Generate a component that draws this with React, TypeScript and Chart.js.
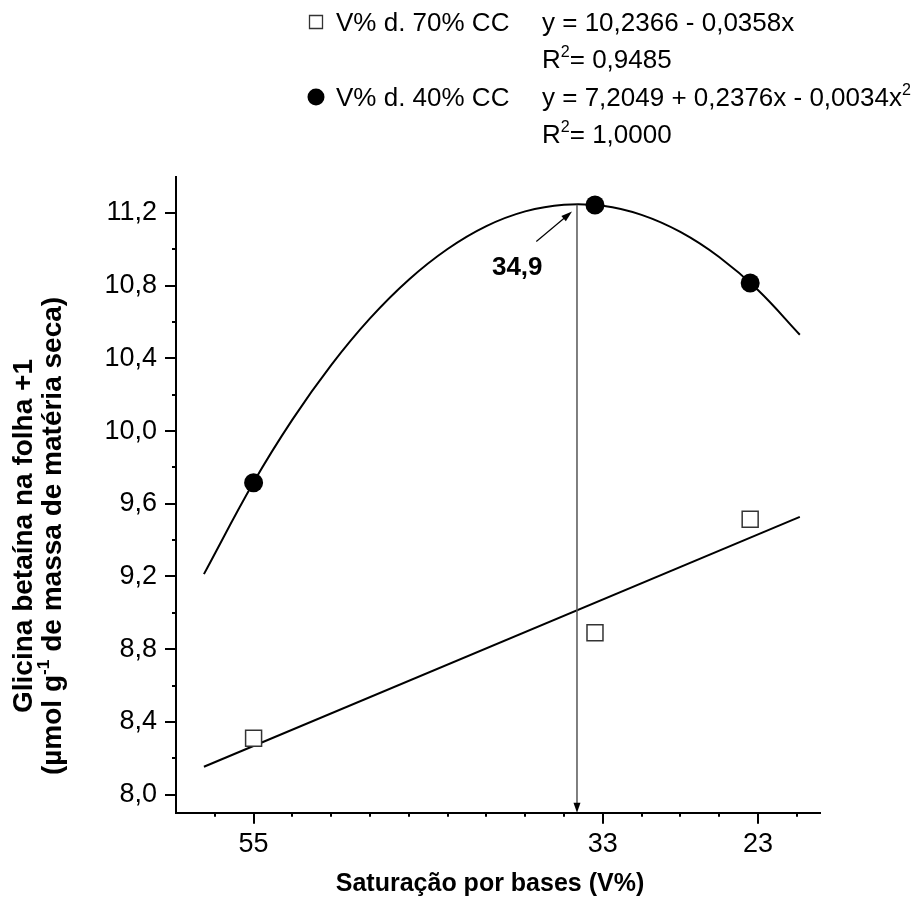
import React, { useEffect, useRef } from 'react';
import { Chart, registerables } from 'chart.js';

Chart.register(...registerables);

const FONT = '"Liberation Sans", Arial, Helvetica, sans-serif';

// Observed means at each base saturation level (V%)
const basesV = [55, 33, 23];
const glicina70 = [8.31, 8.89, 9.515];
const glicina40 = [9.716, 11.244, 10.815];

// Fitted straight line (70% CC), read at its two ends
const fit70X = [58.2, 19.8];
const fit70Y = [8.153, 9.528];

// Fitted curve (40% CC)
const fit40X = [58.2, 55, 52.5, 50, 47.5, 45, 42.5, 40, 37.5, 35, 32.5, 30, 27.5, 25, 22.5, 19.8];
const fit40Y = [9.213, 9.718, 10.063, 10.363, 10.62, 10.833, 11.002, 11.128, 11.209, 11.246, 11.24, 11.19, 11.096, 10.958, 10.776, 10.53];

// Axis ticks
const xMajorTicks = [55, 32.5, 22.5];
const xMajorLabels = ['55', '33', '23'];
const xMinorTicks = [57.5, 52.5, 50, 47.5, 45, 42.5, 40, 37.5, 35, 30, 27.5, 25, 20];
const yMajorTicks = [8.0, 8.4, 8.8, 9.2, 9.6, 10.0, 10.4, 10.8, 11.2];
const yMajorLabels = ['8,0', '8,4', '8,8', '9,2', '9,6', '10,0', '10,4', '10,8', '11,2'];
const yMinorTicks = [8.2, 8.6, 9.0, 9.4, 9.8, 10.2, 10.6, 11.0];

// Annotation (maximum point)
const peakMarkX = 34.16;
const peakMarkTopY = 11.245;
const peakLabel = '34,9';
const peakLabelX = 39.64;
const peakLabelY = 10.86;
const peakArrowFromX = 36.78;
const peakArrowFromY = 11.043;
const peakArrowToX = 34.48;
const peakArrowToY = 11.208;

// Texts
const xTitle = 'Saturação por bases (V%)';
const yTitle1 = 'Glicina betaína na folha +1';
const seriesName70 = 'V% d. 70% CC';
const seriesName40 = 'V% d. 40% CC';
const eq70 = 'y = 10,2366 - 0,0358x';
const r2_70 = '= 0,9485';
const eq40 = 'y = 7,2049 + 0,2376x - 0,0034x';
const r2_40 = '= 1,0000';

type Run = { t: string; sup?: boolean };

function runsWidth(ctx: CanvasRenderingContext2D, runs: Run[], size: number, weight: string) {
  let w = 0;
  for (const r of runs) {
    const s = r.sup ? size * 0.62 : size;
    ctx.font = `${weight} ${s}px ${FONT}`;
    w += ctx.measureText(r.t).width;
  }
  return w;
}

function drawRuns(ctx: CanvasRenderingContext2D, runs: Run[], x: number, y: number, size: number, weight: string) {
  let cx = x;
  ctx.textAlign = 'left';
  ctx.textBaseline = 'alphabetic';
  for (const r of runs) {
    const s = r.sup ? size * 0.62 : size;
    ctx.font = `${weight} ${s}px ${FONT}`;
    ctx.fillText(r.t, cx, r.sup ? y - size * 0.42 : y);
    cx += ctx.measureText(r.t).width;
  }
}

function arrowHead(ctx: CanvasRenderingContext2D, x1: number, y1: number, x2: number, y2: number, len: number, half: number) {
  const a = Math.atan2(y2 - y1, x2 - x1);
  ctx.beginPath();
  ctx.moveTo(x2, y2);
  ctx.lineTo(x2 - len * Math.cos(a) + half * Math.sin(a), y2 - len * Math.sin(a) - half * Math.cos(a));
  ctx.lineTo(x2 - len * Math.cos(a) - half * Math.sin(a), y2 - len * Math.sin(a) + half * Math.cos(a));
  ctx.closePath();
  ctx.fill();
}

const customPlugin = {
  id: 'customDecor',
  afterDraw(chart: any) {
    const ctx: CanvasRenderingContext2D = chart.ctx;
    const xs = chart.scales.x;
    const ys = chart.scales.y;
    const area = chart.chartArea;
    ctx.save();
    ctx.strokeStyle = '#000';
    ctx.fillStyle = '#000';
    ctx.lineWidth = 2;

    // tick marks
    ctx.beginPath();
    for (const v of yMajorTicks) {
      const p = Math.round(ys.getPixelForValue(v));
      ctx.moveTo(area.left - 11, p);
      ctx.lineTo(area.left, p);
    }
    for (const v of yMinorTicks) {
      const p = Math.round(ys.getPixelForValue(v));
      ctx.moveTo(area.left - 4, p);
      ctx.lineTo(area.left, p);
    }
    for (const v of xMajorTicks) {
      const p = Math.round(xs.getPixelForValue(v));
      ctx.moveTo(p, area.bottom);
      ctx.lineTo(p, area.bottom + 11);
    }
    for (const v of xMinorTicks) {
      const p = Math.round(xs.getPixelForValue(v));
      ctx.moveTo(p, area.bottom);
      ctx.lineTo(p, area.bottom + 4);
    }
    ctx.stroke();

    // vertical marker line with arrow to the axis
    const vx = xs.getPixelForValue(peakMarkX);
    const vTop = ys.getPixelForValue(peakMarkTopY);
    ctx.strokeStyle = '#555';
    ctx.lineWidth = 1.5;
    ctx.beginPath();
    ctx.moveTo(vx, vTop);
    ctx.lineTo(vx, area.bottom - 8);
    ctx.stroke();
    ctx.fillStyle = '#000';
    arrowHead(ctx, vx, vTop, vx, area.bottom, 10, 3.5);

    // diagonal arrow
    const ax1 = xs.getPixelForValue(peakArrowFromX);
    const ay1 = ys.getPixelForValue(peakArrowFromY);
    const ax2 = xs.getPixelForValue(peakArrowToX);
    const ay2 = ys.getPixelForValue(peakArrowToY);
    ctx.strokeStyle = '#000';
    ctx.lineWidth = 1.2;
    ctx.beginPath();
    ctx.moveTo(ax1, ay1);
    const ang = Math.atan2(ay2 - ay1, ax2 - ax1);
    ctx.lineTo(ax2 - 8 * Math.cos(ang), ay2 - 8 * Math.sin(ang));
    ctx.stroke();
    arrowHead(ctx, ax1, ay1, ax2, ay2, 11, 3.5);

    // peak label
    ctx.font = `bold 26px ${FONT}`;
    ctx.textAlign = 'left';
    ctx.textBaseline = 'alphabetic';
    ctx.fillText(peakLabel, xs.getPixelForValue(peakLabelX), ys.getPixelForValue(peakLabelY));

    // x title
    ctx.font = `bold 25px ${FONT}`;
    ctx.textAlign = 'center';
    ctx.fillText(xTitle, 490, 891);

    // y title (rotated, two lines)
    const yRuns1: Run[] = [{ t: yTitle1 }];
    const yRuns2: Run[] = [{ t: '(µmol g' }, { t: '-1', sup: true }, { t: ' de massa de matéria seca)' }];
    const cy = 536;
    const ySize = 28;
    ctx.save();
    ctx.translate(32, cy);
    ctx.rotate(-Math.PI / 2);
    drawRuns(ctx, yRuns1, -runsWidth(ctx, yRuns1, ySize, 'bold') / 2, 0, ySize, 'bold');
    ctx.restore();
    ctx.save();
    ctx.translate(61, cy);
    ctx.rotate(-Math.PI / 2);
    drawRuns(ctx, yRuns2, -runsWidth(ctx, yRuns2, ySize, 'bold') / 2, 0, ySize, 'bold');
    ctx.restore();

    // legend
    const symX = 316;
    const nameX = 336;
    const eqX = 542;
    const size = 26;
    const rows = [31, 68, 106, 143];
    // square
    ctx.strokeStyle = '#333';
    ctx.lineWidth = 1.3;
    ctx.fillStyle = '#fff';
    ctx.beginPath();
    ctx.rect(symX - 6.5, rows[0] - 9 - 6.5, 13, 13);
    ctx.fill();
    ctx.stroke();
    ctx.fillStyle = '#000';
    drawRuns(ctx, [{ t: seriesName70 }], nameX, rows[0], size, 'normal');
    drawRuns(ctx, [{ t: eq70 }], eqX, rows[0], size, 'normal');
    drawRuns(ctx, [{ t: 'R' }, { t: '2', sup: true }, { t: r2_70 }], eqX, rows[1], size, 'normal');
    // circle
    ctx.beginPath();
    ctx.arc(symX, rows[2] - 9, 8.5, 0, Math.PI * 2);
    ctx.fill();
    drawRuns(ctx, [{ t: seriesName40 }], nameX, rows[2], size, 'normal');
    drawRuns(ctx, [{ t: eq40 }, { t: '2', sup: true }], eqX, rows[2], size, 'normal');
    drawRuns(ctx, [{ t: 'R' }, { t: '2', sup: true }, { t: r2_40 }], eqX, rows[3], size, 'normal');

    ctx.restore();
  },
};

export default function App() {
  const ref = useRef<HTMLCanvasElement>(null);
  useEffect(() => {
    const canvas = ref.current;
    if (!canvas) return;
    const chart = new Chart(canvas, {
      type: 'scatter',
      data: {
        datasets: [
          {
            label: seriesName40,
            data: basesV.map((x, i) => ({ x, y: glicina40[i] })),
            pointStyle: 'circle',
            pointRadius: 9.5,
            pointBackgroundColor: '#000',
            pointBorderColor: '#000',
            pointBorderWidth: 0,
            showLine: false,
            order: 0,
          },
          {
            label: seriesName70,
            data: basesV.map((x, i) => ({ x, y: glicina70[i] })),
            pointStyle: 'rect',
            pointRadius: 11.3,
            pointBackgroundColor: '#fff',
            pointBorderColor: '#333',
            pointBorderWidth: 1.5,
            showLine: false,
            order: 0,
          },
          {
            label: 'ajuste 40% CC',
            data: fit40X.map((x, i) => ({ x, y: fit40Y[i] })),
            showLine: true,
            borderColor: '#000',
            borderWidth: 2,
            pointRadius: 0,
            tension: 0.4,
            order: 1,
          },
          {
            label: 'ajuste 70% CC',
            data: fit70X.map((x, i) => ({ x, y: fit70Y[i] })),
            showLine: true,
            borderColor: '#000',
            borderWidth: 2,
            pointRadius: 0,
            tension: 0,
            order: 1,
          },
        ],
      } as any,
      options: {
        responsive: false,
        animation: false,
        devicePixelRatio: 1,
        events: [],
        layout: { padding: { left: 0, top: 176.7, right: 95, bottom: 0 } },
        plugins: { legend: { display: false }, tooltip: { enabled: false } },
        scales: {
          x: {
            type: 'linear',
            reverse: true,
            min: 18.5,
            max: 60,
            afterBuildTicks: (s: any) => {
              s.ticks = [...xMajorTicks, ...xMinorTicks].sort((a, b) => a - b).map((v) => ({ value: v }));
            },
            afterFit: (s: any) => {
              s.height = 95.3;
            },
            grid: { display: false, drawTicks: false },
            border: { display: true, color: '#000', width: 2 },
            ticks: {
              autoSkip: false,
              maxRotation: 0,
              minRotation: 0,
              padding: 16,
              color: '#000',
              font: { size: 27, family: FONT },
              callback: (v: any) => {
                const i = xMajorTicks.indexOf(Number(v));
                return i >= 0 ? xMajorLabels[i] : '';
              },
            },
          },
          y: {
            type: 'linear',
            min: 7.9,
            max: 11.4,
            afterBuildTicks: (s: any) => {
              s.ticks = [...yMajorTicks, ...yMinorTicks].sort((a, b) => a - b).map((v) => ({ value: v }));
            },
            afterFit: (s: any) => {
              s.width = 176;
            },
            grid: { display: false, drawTicks: false },
            border: { display: true, color: '#000', width: 2 },
            ticks: {
              autoSkip: false,
              padding: 19,
              color: '#000',
              font: { size: 27, family: FONT },
              callback: (v: any) => {
                const i = yMajorTicks.findIndex((t) => Math.abs(t - Number(v)) < 1e-6);
                return i >= 0 ? yMajorLabels[i] : '';
              },
            },
          },
        },
      } as any,
      plugins: [customPlugin],
    });
    return () => chart.destroy();
  }, []);
  return (
    <div style={{ position: 'fixed', left: 0, top: 0, width: 915, height: 908, background: '#fff' }}>
      <canvas ref={ref} width={915} height={908} style={{ display: 'block', width: 915, height: 908 }} />
    </div>
  );
}
